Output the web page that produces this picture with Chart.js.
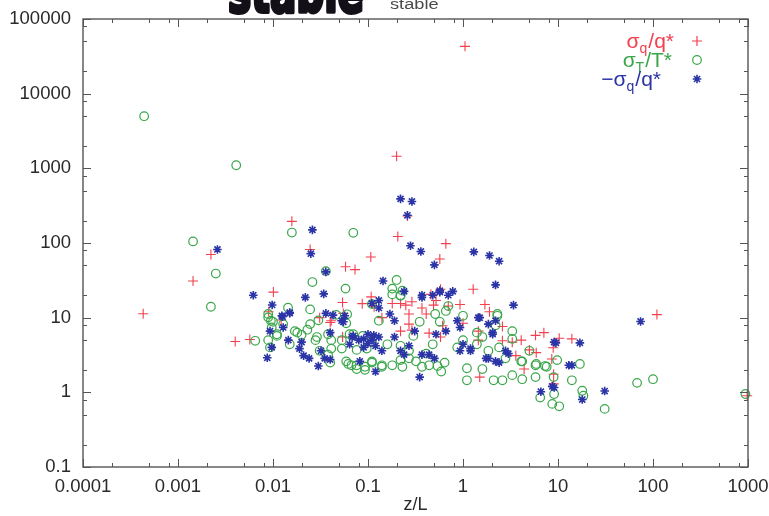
<!DOCTYPE html>
<html>
<head>
<meta charset="utf-8">
<script src="https://cdn.jsdelivr.net/npm/chart.js@4/dist/chart.umd.min.js"></script>
<style>
  html, body { margin: 0; padding: 0; background: #fff; }
  #wrap { width: 769px; height: 516px; position: relative; }
</style>
</head>
<body>
<div id="wrap"><canvas id="myChart" width="769" height="516"></canvas></div>
<script>
// values (z/L, ratio)
const sigmaQ = [
    [1.05, 43000], [0.2, 1450], [0.0158, 195], [0.00222, 70], [0.00144, 31], [0.00043, 11.3],
    [0.0101, 22], [0.004, 4.8], [0.0057, 5.1], [0.206, 122], [0.0246, 82], [0.107, 65],
    [0.058, 48], [0.073, 44], [0.054, 16], [0.087, 15.4], [0.116, 14], [0.055, 11.4],
    [0.054, 5.5], [0.009, 12], [0.0122, 9.3], [0.04, 8.6], [0.031, 10], [0.041, 9.1],
    [0.108, 19], [0.14, 10], [0.22, 15.5], [0.25, 14.7], [0.29, 16.3], [0.37, 13.5],
    [0.27, 11.2], [0.27, 8.2], [0.18, 15.5], [0.46, 20.5], [0.49, 14.7], [0.52, 17],
    [0.58, 24], [0.7, 14.3], [0.93, 15], [1.28, 24], [1.7, 15], [1.9, 12], [0.44, 6.2],
    [0.58, 5.5], [1.45, 6.6], [1.45, 5.0], [2.6, 4.9], [3.3, 4.7], [4.1, 5.0], [5.8, 5.8],
    [7.1, 6.3], [10.3, 5.3], [5.9, 3.4], [4.4, 2.05], [1.5, 1.6], [8.9, 3.95], [8.6, 2.8],
    [3.6, 3.1], [5.0, 3.7], [0.29, 6.8], [0.41, 11.2], [1.0, 8.4], [0.61, 7.8], [2.6, 7.6],
    [0.22, 6.6], [0.66, 98], [0.57, 61], [0.26, 230], [9.0, 1.75], [9.0, 1.3], [110, 11],
    [14, 5.2], [980, 0.9],
];
const sigmaT = [
    [0.00044, 4990], [0.0041, 1100], [0.00144, 105], [0.0025, 39], [0.00222, 14], [0.0158, 138],
    [0.0065, 4.9], [0.0144, 13.6], [0.07, 137], [0.036, 42], [0.026, 30], [0.058, 24.5],
    [0.0246, 12.9], [0.0089, 10.1], [0.0095, 9.1], [0.0464, 10.9], [0.0603, 11.1], [0.059, 8.4],
    [0.07, 6.0], [0.01, 8.8], [0.017, 6.6], [0.02, 5.9], [0.0246, 8.2], [0.03, 9.2],
    [0.011, 5.7], [0.015, 4.4], [0.028, 5.0], [0.041, 5.0], [0.041, 3.85], [0.053, 5.0],
    [0.053, 3.85], [0.064, 6.0], [0.088, 5.7], [0.076, 3.7], [0.097, 3.85], [0.062, 2.4],
    [0.076, 2.3], [0.093, 2.2], [0.11, 2.6], [0.14, 2.2], [0.18, 2.3], [0.22, 2.7],
    [0.23, 2.2], [0.27, 2.85], [0.32, 2.6], [0.37, 2.2], [0.44, 2.3], [0.54, 2.25],
    [0.64, 2.5], [0.59, 1.9], [1.1, 2.1], [1.1, 1.45], [1.6, 2.05], [2.1, 1.45],
    [2.6, 1.45], [3.3, 1.7], [4.2, 1.5], [3.3, 6.6], [2.3, 11.2], [1.0, 10.6],
    [0.66, 12.3], [0.7, 14.3], [0.51, 11.2], [0.57, 8.8], [0.35, 8.8], [0.3, 5.7],
    [0.18, 20.5], [0.2, 32], [0.22, 19.6], [0.23, 23], [0.11, 15.2], [0.13, 9.1],
    [0.11, 4.7], [0.16, 4.4], [0.22, 4.2], [0.27, 3.6], [0.48, 4.4], [0.87, 4.0],
    [1.4, 4.4], [1.85, 3.6], [2.4, 4.0], [2.8, 2.85], [5.8, 2.3], [7.3, 2.25],
    [9, 1.6], [9.1, 0.95], [6.5, 0.85], [8.7, 0.7], [10.3, 0.65], [5.8, 1.6],
    [4.1, 2.6], [1.4, 6.3], [1.6, 5.5], [1.0, 5.0], [0.41, 3.3], [0.18, 24.5],
    [0.22, 20], [2.3, 10.6], [2.2, 7.9], [3.3, 5.2], [4.2, 2.6], [5.9, 2.4],
    [7.6, 2.2], [5.0, 3.6], [9.8, 2.7], [14, 1.45], [17, 2.4], [18, 1.05],
    [18.5, 0.9], [31, 0.6], [68, 1.34], [100, 1.5], [0.0089, 11.2], [0.0097, 7.4],
    [0.011, 6.0], [0.0089, 5.0], [0.0093, 4.0], [0.0128, 8.2], [0.018, 6.3], [0.023, 6.9],
    [0.029, 5.5], [0.038, 6.0], [0.038, 3.2], [0.04, 2.5], [0.031, 3.6], [0.059, 2.6],
    [0.067, 2.3], [0.076, 2.05], [0.093, 2.0], [0.11, 2.5], [0.14, 2.3], [940, 0.95],
];
const negSigmaQ = [
    [0.0026, 82], [0.0062, 20], [0.0098, 14.8], [0.0087, 2.9], [0.026, 150], [0.025, 72],
    [0.036, 41], [0.144, 31], [0.0219, 18.7], [0.0342, 20.8], [0.015, 11.7], [0.0124, 10.6],
    [0.036, 11.4], [0.0428, 10.8], [0.0527, 9.1], [0.068, 5.5], [0.22, 390], [0.29, 360],
    [0.26, 235], [0.28, 92], [0.36, 77], [0.5, 51], [1.3, 76], [1.9, 68],
    [2.4, 57], [2.2, 27.5], [3.4, 14.7], [0.57, 23], [0.7, 20], [0.78, 22.5],
    [0.37, 18.7], [0.24, 22.5], [1.5, 10], [1.85, 8.2], [2.2, 9.1], [2.05, 6.0],
    [3.0, 3.3], [2.4, 2.5], [1.85, 2.85], [1.2, 3.6], [0.35, 1.6], [9.5, 4.6],
    [9.1, 1.16], [6.6, 1.02], [17, 4.6], [14, 2.3], [18, 0.8], [31, 1.04],
    [74, 8.9], [0.0126, 10.3], [0.015, 11.5], [0.0093, 6.6], [0.0097, 4.0], [0.0128, 7.4],
    [0.0145, 5.0], [0.02, 4.7], [0.021, 3.1], [0.03, 2.25], [0.032, 3.6], [0.035, 2.85],
    [0.04, 2.75], [0.04, 6.3], [0.057, 10.6], [0.055, 8.8], [0.064, 4.4], [0.07, 5.7],
    [0.09, 5.2], [0.1, 6.0], [0.11, 5.0], [0.13, 5.5], [0.14, 3.6], [0.12, 1.9],
    [0.11, 15.5], [0.13, 17], [0.13, 13.5], [0.17, 11.2], [0.19, 9.1], [0.19, 5.5],
    [0.22, 3.6], [0.24, 3.2], [0.31, 6.6], [0.37, 20], [0.48, 20], [0.57, 22],
    [0.52, 6.0], [0.66, 6.6], [0.37, 3.2], [0.44, 3.2], [0.5, 2.85], [0.87, 9.1],
    [0.93, 7.4], [1.0, 4.4], [1.2, 3.85], [1.45, 10], [2.05, 6.3], [2.8, 3.6],
    [1.75, 2.85], [2.2, 2.6], [9.1, 4.7], [8.7, 1.2], [13, 2.3], [0.019, 3.85],
    [0.024, 2.85], [0.082, 2.6], [0.27, 4.2], [0.93, 3.6], [0.1, 4.5], [0.12, 4.2],
    [0.115, 5.8], [0.09, 4.0], [0.08, 5.0],
];

const xTicks = [0.0001, 0.001, 0.01, 0.1, 1, 10, 100, 1000];
const yTicks = [0.1, 1, 10, 100, 1000, 10000, 100000];
const minorSteps = [2, 5, 8];

const RED = "#f2404f";
const GREEN = "#3aa64a";
const BLUE = "#2a34a6";
const FONT = "'Liberation Sans', Arial, sans-serif";

const legendRows = [
    { color: RED, right: 673, y: 41, parts: [["σ", 0], ["q", 1], ["/q", 0], ["*", 2]], style: "cross" },
    { color: GREEN, right: 671, y: 60, parts: [["σ", 0], ["T", 1], ["/T", 0], ["*", 2]], style: "circle" },
    { color: BLUE, right: 660, y: 79, parts: [["−σ", 0], ["q", 1], ["/q", 0], ["*", 2]], style: "star" },
];

const decorPlugin = {
    id: "decor",
    afterDatasetsDraw(chart) {
        const { ctx, chartArea: a, scales } = chart;
        const x = scales.x, y = scales.y;
        ctx.save();
        ctx.strokeStyle = "#555";
        ctx.lineWidth = 1.4;
        ctx.strokeRect(a.left, a.top, a.right - a.left, a.bottom - a.top);
        ctx.lineWidth = 1;
        ctx.beginPath();
        xTicks.forEach((d) => {
            [1, ...minorSteps].forEach((m) => {
                const v = d * m;
                if (v > xTicks[xTicks.length - 1]) return;
                const px = Math.round(x.getPixelForValue(v)) + 0.5;
                const len = m === 1 ? 8 : 4;
                ctx.moveTo(px, a.bottom); ctx.lineTo(px, a.bottom - len);
                ctx.moveTo(px, a.top); ctx.lineTo(px, a.top + len);
            });
        });
        yTicks.forEach((d) => {
            [1, ...minorSteps].forEach((m) => {
                const v = d * m;
                if (v > yTicks[yTicks.length - 1]) return;
                const py = Math.round(y.getPixelForValue(v)) + 0.5;
                const len = m === 1 ? 8 : 4;
                ctx.moveTo(a.left, py); ctx.lineTo(a.left + len, py);
                ctx.moveTo(a.right, py); ctx.lineTo(a.right - len, py);
            });
        });
        ctx.stroke();

        // legend, gnuplot style: text right-justified, symbol on the right
        legendRows.forEach((row) => {
            const sizes = [21, 14, 21, 14];
            const offs = [0, 5, 0, -8];
            let w = 0;
            row.parts.forEach(([t, k]) => {
                ctx.font = `${sizes[k]}px ${FONT}`;
                w += ctx.measureText(t).width;
            });
            let cx = row.right - w;
            ctx.fillStyle = row.color;
            ctx.textBaseline = "alphabetic";
            ctx.textAlign = "left";
            row.parts.forEach(([t, k]) => {
                ctx.font = `${sizes[k]}px ${FONT}`;
                ctx.fillText(t, cx, row.y + 7 + offs[k]);
                cx += ctx.measureText(t).width + (k === 1 ? 1 : 0);
            });
            ctx.strokeStyle = row.color;
            ctx.fillStyle = row.style === "circle" ? "rgba(0,0,0,0)" : row.color;
            ctx.lineWidth = row.style === "star" ? 1.6 : 1.2;
            Chart.helpers.drawPoint(ctx, {
                pointStyle: row.style,
                radius: row.style === "cross" ? 5 : 4.3,
                borderWidth: ctx.lineWidth,
            }, 697, row.y);
        });

        // header text at top of the scan, mostly cut off
        ctx.fillStyle = "#141018";
        ctx.strokeStyle = "#141018";
        ctx.lineWidth = 4;
        ctx.lineJoin = "round";
        ctx.font = `bold 58px 'DejaVu Sans', sans-serif`;
        ctx.textAlign = "left";
        ctx.textBaseline = "alphabetic";
        ctx.fillText("stable", 228, 12, 136);
        ctx.strokeText("stable", 228, 12, 136);

        ctx.fillStyle = "#4a4a4a";
        ctx.font = `14px ${FONT}`;
        ctx.translate(390, 9);
        ctx.scale(1.3, 1);
        ctx.fillText("stable", 0, 0);
        ctx.restore();
    },
};

function toPoints(arr) {
    return arr.map(([x, y]) => ({ x, y }));
}

function main() {
    const ctx = document.getElementById("myChart");

    new Chart(ctx, {
        type: "scatter",
        data: {
            datasets: [
                {
                    label: "σq/q*",
                    data: toPoints(sigmaQ),
                    pointStyle: "cross",
                    pointRadius: 5,
                    borderColor: RED,
                    backgroundColor: RED,
                    borderWidth: 1.1,
                    clip: false,
                    order: 3,
                },
                {
                    label: "σT/T*",
                    data: toPoints(sigmaT),
                    pointStyle: "circle",
                    pointRadius: 4.3,
                    borderColor: GREEN,
                    backgroundColor: "rgba(0,0,0,0)",
                    borderWidth: 1.2,
                    clip: false,
                    order: 2,
                },
                {
                    label: "−σq/q*",
                    data: toPoints(negSigmaQ),
                    pointStyle: "star",
                    pointRadius: 4.3,
                    borderColor: BLUE,
                    backgroundColor: BLUE,
                    borderWidth: 1.6,
                    clip: false,
                    order: 1,
                },
            ],
        },
        options: {
            responsive: false,
            animation: false,
            events: [],
            layout: { padding: { top: 19, right: 21, left: 0, bottom: 0 } },
            plugins: {
                legend: { display: false },
                tooltip: { enabled: false },
            },
            scales: {
                x: {
                    type: "logarithmic",
                    min: 0.0001,
                    max: 1000,
                    afterBuildTicks: (axis) => {
                        axis.ticks = xTicks.map((v) => ({ value: v }));
                    },
                    afterFit: (axis) => {
                        axis.height = 49;
                        axis.paddingLeft = 0;
                        axis.paddingRight = 0;
                    },
                    grid: { display: false, drawTicks: false },
                    border: { display: false },
                    ticks: {
                        autoSkip: false,
                        maxRotation: 0,
                        padding: 9,
                        color: "#2a2a2a",
                        font: { family: FONT, size: 18.5 },
                        callback: (v) => String(v),
                    },
                    title: {
                        display: true,
                        text: "z/L",
                        color: "#2a2a2a",
                        font: { family: FONT, size: 18 },
                        padding: { top: 0, bottom: 0 },
                    },
                },
                y: {
                    type: "logarithmic",
                    min: 0.1,
                    max: 100000,
                    afterBuildTicks: (axis) => {
                        axis.ticks = yTicks.map((v) => ({ value: v }));
                    },
                    afterFit: (axis) => {
                        axis.width = 83;
                        axis.paddingTop = 0;
                        axis.paddingBottom = 0;
                    },
                    grid: { display: false, drawTicks: false },
                    border: { display: false },
                    ticks: {
                        autoSkip: false,
                        padding: 12,
                        color: "#2a2a2a",
                        font: { family: FONT, size: 18.5 },
                        callback: (v) => String(v),
                    },
                },
            },
        },
        plugins: [decorPlugin],
    });
}

main();
</script>
</body>
</html>
